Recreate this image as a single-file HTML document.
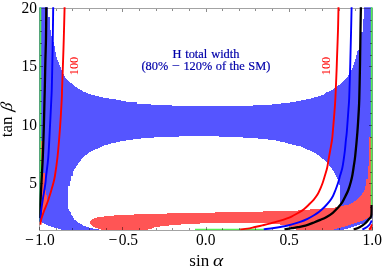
<!DOCTYPE html>
<html><head><meta charset="utf-8"><title>plot</title>
<style>
html,body{margin:0;padding:0;background:#fff;}
svg{display:block;font-family:"Liberation Serif",serif;will-change:transform;}
</style></head>
<body>
<svg width="382" height="270" viewBox="0 0 382 270">
<rect width="382" height="270" fill="#fff"/>
<defs><clipPath id="c"><rect x="39.3" y="7.2" width="333" height="222.8"/></clipPath><clipPath id="d"><rect x="39.2" y="7.2" width="333.5" height="223"/></clipPath></defs>
<g clip-path="url(#c)">
<g shape-rendering="crispEdges">
<polygon fill="#5555ff" points="39.0,7.0 47.6,7.0 47.6,16.6 49.6,16.6 49.6,30.4 50.8,30.4 51.5,36.0 53.9,42.6 54.9,48.9 56.1,55.2 57.5,60.0 60.1,66.3 62.6,72.6 64.5,76.4 67.6,80.2 72.0,83.9 77.1,87.7 83.4,91.5 89.0,93.8 95.6,95.8 105.0,98.0 115.7,99.5 125.0,101.4 131.0,102.3 137.0,102.3 137.0,103.5 150.9,103.5 150.9,104.7 172.3,104.7 172.3,105.8 253.0,105.8 253.0,104.8 272.0,104.8 272.0,104.0 286.0,103.2 298.0,101.2 311.0,98.5 323.8,94.7 326.0,92.6 331.2,90.5 336.5,87.0 341.7,82.9 345.9,79.1 348.5,75.4 350.6,71.3 352.9,67.0 354.1,63.5 355.4,59.0 356.7,54.0 358.0,49.7 361.3,49.7 361.3,32.3 363.0,32.3 363.0,19.1 364.2,19.1 364.2,7.0 373.0,7.0 373.0,231.0 61.4,231.0 61.4,229.6 56.0,228.0 54.0,227.4 50.9,226.5 47.7,225.5 44.6,223.7 41.4,222.1 39.0,221.5"/>
<polygon fill="#ffffff" points="67.9,205.0 67.9,186.3 69.5,186.3 69.5,180.5 70.8,180.5 70.8,175.6 72.9,175.6 72.9,172.2 75.1,168.3 78.9,162.7 83.9,156.4 90.2,152.0 97.8,148.4 100.0,147.6 105.0,145.2 112.6,143.2 118.9,141.8 125.2,140.6 132.7,139.6 142.8,138.3 153.7,138.0 153.7,137.1 178.9,137.1 178.9,135.8 219.0,135.8 219.0,137.1 243.1,137.1 243.1,138.2 258.2,138.2 258.2,139.1 268.3,139.1 268.3,140.2 276.0,140.2 277.0,141.0 283.6,142.2 292.4,144.7 301.2,146.6 307.5,149.7 313.8,152.2 319.2,155.7 323.4,159.4 327.6,163.0 331.3,168.0 334.9,173.2 337.0,178.5 339.1,182.7 339.6,185.8 339.6,231.0 99.7,231.0 99.7,229.7 98.1,229.3 93.9,228.6 89.7,227.9 86.6,226.8 83.4,225.5 80.3,223.7 77.1,221.8 74.0,219.2 72.7,216.8 71.2,214.1 70.1,211.5 68.6,209.4 67.9,208.4"/>
<polygon fill="#5555ff" points="339.6,185 373,185 373,215 339.6,215"/>
<polygon fill="#ffffff" points="339.6,205.8 342,205.9 346.2,205.2 350.4,204 354.6,201.4 357.7,198.8 360.8,195.6 363,192.5 364.5,190.4 373,190 373,231 339.6,231"/>
<polygon fill="#ff5555" points="89.9,222.3 90.8,220.8 92.8,219.2 96.0,217.8 100.2,216.8 105.4,216.4 114.0,216.0 114.0,215.3 133.9,215.3 133.9,214.3 167.1,214.3 167.1,213.2 214.9,213.2 214.9,211.9 263.3,211.9 263.3,211.0 298.1,211.0 298.1,209.9 306.0,209.9 314.0,209.1 322.0,208.6 330.0,208.0 339.6,207.0 339.6,205.8 342.0,205.9 346.2,205.2 350.4,204.0 354.6,201.4 357.7,198.8 360.8,195.6 363.0,192.5 364.5,190.4 364.5,185.7 366.1,185.7 366.3,179.0 368.0,179.0 368.0,166.0 369.4,166.0 369.4,136.8 373.0,136.8 373.0,214.6 370.5,216.6 369.1,218.0 365.3,220.1 362.0,221.3 355.5,223.4 349.2,225.5 342.9,227.6 335.6,229.3 333.0,231.0 296.5,231.0 295.0,228.5 292.0,227.2 285.0,225.5 276.0,223.8 262.0,222.9 240.0,222.6 200.3,222.6 200.3,223.5 181.2,223.5 181.2,224.6 168.7,224.6 168.7,225.5 160.3,225.5 160.3,226.5 154.0,226.5 154.0,227.9 151.7,227.9 151.7,228.9 147.5,228.9 147.5,231.0 102.3,231.0 102.3,229.7 99.1,229.1 96.0,227.9 92.8,226.2 90.8,224.4"/>
<polygon fill="#ff5555" points="40.0,141.3 42.6,141.3 42.6,173.3 44.5,173.3 44.5,189.6 45.5,189.6 45.5,195.0 47.1,195.0 47.1,204.0 44.0,210.5 41.0,218.8 40.0,222.0"/>
<polygon fill="#ff5555" points="369.1,230.0 372.0,224.3 372.0,230.0"/>
<polygon fill="#5555ff" points="373.0,214.1 370.5,216.1 369.1,217.5 365.3,219.6 362.0,220.8 355.5,222.9 349.2,225.0 342.9,227.1 335.6,228.8 332.0,231.0 341.0,231.0 343.0,229.7 349.2,228.3 355.5,226.0 362.0,223.9 365.3,222.2 370.1,218.8 373.0,217.5"/>
</g>
</g>
<g stroke="#000" stroke-opacity="0.45" stroke-width="1" fill="none" shape-rendering="crispEdges">
<rect x="39.5" y="8.5" width="333.00" height="222.00" stroke-opacity="0.36"/>
<g clip-path="url(#d)" stroke-opacity="1" shape-rendering="auto">
<line x1="40.3" y1="7" x2="40.3" y2="222" stroke="#55ee55" stroke-width="1.9"/>
<line x1="371.75" y1="7" x2="371.75" y2="205" stroke="#55ee55" stroke-width="1.9"/>
<line x1="195" y1="229.4" x2="264" y2="229.4" stroke="#55ee55" stroke-width="1.5"/>
</g>
<line x1="39.5" y1="230.0" x2="39.5" y2="226.70"/>
<line x1="56.5" y1="230.0" x2="56.5" y2="228.10"/>
<line x1="56.5" y1="9.0" x2="56.5" y2="10.90"/>
<line x1="72.5" y1="230.0" x2="72.5" y2="228.10"/>
<line x1="72.5" y1="9.0" x2="72.5" y2="10.90"/>
<line x1="89.5" y1="230.0" x2="89.5" y2="228.10"/>
<line x1="89.5" y1="9.0" x2="89.5" y2="10.90"/>
<line x1="106.5" y1="230.0" x2="106.5" y2="228.10"/>
<line x1="106.5" y1="9.0" x2="106.5" y2="10.90"/>
<line x1="122.5" y1="230.0" x2="122.5" y2="226.70"/>
<line x1="122.5" y1="9.0" x2="122.5" y2="12.30"/>
<line x1="139.5" y1="230.0" x2="139.5" y2="228.10"/>
<line x1="139.5" y1="9.0" x2="139.5" y2="10.90"/>
<line x1="156.5" y1="230.0" x2="156.5" y2="228.10"/>
<line x1="156.5" y1="9.0" x2="156.5" y2="10.90"/>
<line x1="172.5" y1="230.0" x2="172.5" y2="228.10"/>
<line x1="172.5" y1="9.0" x2="172.5" y2="10.90"/>
<line x1="189.5" y1="230.0" x2="189.5" y2="228.10"/>
<line x1="189.5" y1="9.0" x2="189.5" y2="10.90"/>
<line x1="206.5" y1="230.0" x2="206.5" y2="226.70"/>
<line x1="206.5" y1="9.0" x2="206.5" y2="12.30"/>
<line x1="222.5" y1="230.0" x2="222.5" y2="228.10"/>
<line x1="222.5" y1="9.0" x2="222.5" y2="10.90"/>
<line x1="239.5" y1="230.0" x2="239.5" y2="228.10"/>
<line x1="239.5" y1="9.0" x2="239.5" y2="10.90"/>
<line x1="255.5" y1="230.0" x2="255.5" y2="228.10"/>
<line x1="255.5" y1="9.0" x2="255.5" y2="10.90"/>
<line x1="272.5" y1="230.0" x2="272.5" y2="228.10"/>
<line x1="272.5" y1="9.0" x2="272.5" y2="10.90"/>
<line x1="289.5" y1="230.0" x2="289.5" y2="226.70"/>
<line x1="289.5" y1="9.0" x2="289.5" y2="12.30"/>
<line x1="305.5" y1="230.0" x2="305.5" y2="228.10"/>
<line x1="305.5" y1="9.0" x2="305.5" y2="10.90"/>
<line x1="322.5" y1="230.0" x2="322.5" y2="228.10"/>
<line x1="322.5" y1="9.0" x2="322.5" y2="10.90"/>
<line x1="339.5" y1="230.0" x2="339.5" y2="228.10"/>
<line x1="339.5" y1="9.0" x2="339.5" y2="10.90"/>
<line x1="355.5" y1="230.0" x2="355.5" y2="228.10"/>
<line x1="355.5" y1="9.0" x2="355.5" y2="10.90"/>
<line x1="372.5" y1="230.0" x2="372.5" y2="226.70"/>
<line x1="40.0" y1="218.5" x2="41.90" y2="218.5"/>
<line x1="372.0" y1="218.5" x2="370.10" y2="218.5"/>
<line x1="40.0" y1="207.5" x2="41.90" y2="207.5"/>
<line x1="372.0" y1="207.5" x2="370.10" y2="207.5"/>
<line x1="40.0" y1="195.5" x2="41.90" y2="195.5"/>
<line x1="372.0" y1="195.5" x2="370.10" y2="195.5"/>
<line x1="40.0" y1="183.5" x2="43.30" y2="183.5"/>
<line x1="372.0" y1="183.5" x2="368.70" y2="183.5"/>
<line x1="40.0" y1="172.5" x2="41.90" y2="172.5"/>
<line x1="372.0" y1="172.5" x2="370.10" y2="172.5"/>
<line x1="40.0" y1="160.5" x2="41.90" y2="160.5"/>
<line x1="372.0" y1="160.5" x2="370.10" y2="160.5"/>
<line x1="40.0" y1="148.5" x2="41.90" y2="148.5"/>
<line x1="372.0" y1="148.5" x2="370.10" y2="148.5"/>
<line x1="40.0" y1="137.5" x2="41.90" y2="137.5"/>
<line x1="372.0" y1="137.5" x2="370.10" y2="137.5"/>
<line x1="40.0" y1="125.5" x2="43.30" y2="125.5"/>
<line x1="372.0" y1="125.5" x2="368.70" y2="125.5"/>
<line x1="40.0" y1="113.5" x2="41.90" y2="113.5"/>
<line x1="372.0" y1="113.5" x2="370.10" y2="113.5"/>
<line x1="40.0" y1="101.5" x2="41.90" y2="101.5"/>
<line x1="372.0" y1="101.5" x2="370.10" y2="101.5"/>
<line x1="40.0" y1="90.5" x2="41.90" y2="90.5"/>
<line x1="372.0" y1="90.5" x2="370.10" y2="90.5"/>
<line x1="40.0" y1="78.5" x2="41.90" y2="78.5"/>
<line x1="372.0" y1="78.5" x2="370.10" y2="78.5"/>
<line x1="40.0" y1="66.5" x2="43.30" y2="66.5"/>
<line x1="372.0" y1="66.5" x2="368.70" y2="66.5"/>
<line x1="40.0" y1="55.5" x2="41.90" y2="55.5"/>
<line x1="372.0" y1="55.5" x2="370.10" y2="55.5"/>
<line x1="40.0" y1="43.5" x2="41.90" y2="43.5"/>
<line x1="372.0" y1="43.5" x2="370.10" y2="43.5"/>
<line x1="40.0" y1="31.5" x2="41.90" y2="31.5"/>
<line x1="372.0" y1="31.5" x2="370.10" y2="31.5"/>
<line x1="40.0" y1="20.5" x2="41.90" y2="20.5"/>
<line x1="372.0" y1="20.5" x2="370.10" y2="20.5"/>
</g>
<g clip-path="url(#d)">
<g fill="none" stroke-width="1.9" stroke-linecap="butt" stroke-linejoin="round">
<path d="M360.90,7.00 C360.83,10.83 360.63,21.50 360.50,30.00 C360.37,38.50 360.20,51.33 360.10,58.00 C360.00,64.67 360.03,63.33 359.90,70.00 C359.77,76.67 359.48,91.33 359.30,98.00 C359.12,104.67 359.12,104.33 358.80,110.00 C358.48,115.67 358.00,124.33 357.40,132.00 C356.80,139.67 355.80,150.33 355.20,156.00 C354.60,161.67 354.27,162.83 353.80,166.00 C353.33,169.17 352.90,172.33 352.40,175.00 C351.90,177.67 351.48,179.50 350.80,182.00 C350.12,184.50 349.18,187.67 348.30,190.00 C347.42,192.33 346.52,193.93 345.50,196.00 C344.48,198.07 343.43,200.48 342.20,202.40 C340.97,204.32 339.67,205.77 338.10,207.50 C336.53,209.23 334.72,211.23 332.80,212.80 C330.88,214.37 328.68,215.72 326.60,216.90 C324.52,218.08 322.40,218.97 320.30,219.90 C318.20,220.83 316.48,221.55 314.00,222.50 C311.52,223.45 308.05,224.83 305.40,225.60 C302.75,226.37 300.37,226.67 298.10,227.10 C295.83,227.53 294.07,227.80 291.80,228.20 C289.53,228.60 285.72,229.28 284.50,229.50" stroke="#000000" stroke-width="2.3"/>
<path d="M46.30,7.00 C46.25,12.17 46.15,29.17 46.00,38.00 C45.85,46.83 45.60,51.67 45.40,60.00 C45.20,68.33 44.95,81.33 44.80,88.00 C44.65,94.67 44.67,93.33 44.50,100.00 C44.33,106.67 44.08,118.50 43.80,128.00 C43.52,137.50 43.17,148.33 42.80,157.00 C42.43,165.67 41.93,173.67 41.60,180.00 C41.27,186.33 41.00,190.83 40.80,195.00 C40.60,199.17 40.50,201.17 40.40,205.00 C40.30,208.83 40.23,215.83 40.20,218.00" stroke="#000000" stroke-width="2.3"/>
<path d="M353.70,229.60 C354.75,229.17 358.12,228.02 360.00,227.00 C361.88,225.98 363.50,224.83 365.00,223.50 C366.50,222.17 367.95,220.32 369.00,219.00 C370.05,217.68 370.87,217.93 371.30,215.60 C371.73,213.27 371.55,206.77 371.60,205.00" stroke="#000000" stroke-width="2.3"/>
<path d="M351.60,7.00 C351.52,10.83 351.30,21.50 351.10,30.00 C350.90,38.50 350.57,51.33 350.40,58.00 C350.23,64.67 350.30,63.33 350.10,70.00 C349.90,76.67 349.48,91.33 349.20,98.00 C348.92,104.67 348.80,104.33 348.40,110.00 C348.00,115.67 347.22,127.00 346.80,132.00 C346.38,137.00 346.22,136.92 345.90,140.00 C345.58,143.08 345.25,147.37 344.90,150.50 C344.55,153.63 344.23,155.88 343.80,158.80 C343.37,161.72 342.90,165.25 342.30,168.00 C341.70,170.75 340.90,172.85 340.20,175.30 C339.50,177.75 338.88,180.25 338.10,182.70 C337.32,185.15 336.35,187.78 335.50,190.00 C334.65,192.22 333.97,194.13 333.00,196.00 C332.03,197.87 331.12,199.37 329.70,201.20 C328.28,203.03 326.25,205.25 324.50,207.00 C322.75,208.75 320.95,210.33 319.20,211.70 C317.45,213.07 315.95,214.02 314.00,215.20 C312.05,216.38 309.80,217.68 307.50,218.80 C305.20,219.92 302.65,221.00 300.20,221.90 C297.75,222.80 295.42,223.47 292.80,224.20 C290.18,224.93 287.63,225.67 284.50,226.30 C281.37,226.93 277.45,227.50 274.00,228.00 C270.55,228.50 265.50,229.08 263.80,229.30" stroke="#0000ff"/>
<path d="M53.20,7.00 C53.13,12.17 52.93,29.17 52.80,38.00 C52.67,46.83 52.57,51.67 52.40,60.00 C52.23,68.33 51.98,81.33 51.80,88.00 C51.62,94.67 51.62,93.33 51.30,100.00 C50.98,106.67 50.40,118.50 49.90,128.00 C49.40,137.50 48.93,149.00 48.30,157.00 C47.67,165.00 46.60,171.50 46.10,176.00 C45.60,180.50 45.92,179.67 45.30,184.00 C44.68,188.33 43.12,197.33 42.40,202.00 C41.68,206.67 41.33,208.75 41.00,212.00 C40.67,215.25 40.50,219.92 40.40,221.50" stroke="#0000ff"/>
<path d="M362.40,229.60 C363.17,229.17 365.73,227.93 367.00,227.00 C368.27,226.07 369.20,225.08 370.00,224.00 C370.80,222.92 371.50,221.08 371.80,220.50" stroke="#0000ff"/>
<path d="M338.50,7.00 C338.42,10.83 338.25,21.50 338.00,30.00 C337.75,38.50 337.23,51.33 337.00,58.00 C336.77,64.67 336.87,63.33 336.60,70.00 C336.33,76.67 335.73,91.33 335.40,98.00 C335.07,104.67 335.03,104.33 334.60,110.00 C334.17,115.67 333.23,127.00 332.80,132.00 C332.37,137.00 332.43,136.92 332.00,140.00 C331.57,143.08 330.75,147.37 330.20,150.50 C329.65,153.63 329.22,155.88 328.70,158.80 C328.18,161.72 327.72,165.25 327.10,168.00 C326.48,170.75 325.72,172.88 325.00,175.30 C324.28,177.72 323.55,180.33 322.80,182.50 C322.05,184.67 321.38,186.28 320.50,188.30 C319.62,190.32 318.65,192.68 317.50,194.60 C316.35,196.52 315.02,198.15 313.60,199.80 C312.18,201.45 310.62,202.93 309.00,204.50 C307.38,206.07 305.63,207.83 303.90,209.20 C302.17,210.57 300.93,211.33 298.60,212.70 C296.27,214.07 292.78,216.13 289.90,217.40 C287.02,218.67 283.95,219.48 281.30,220.30 C278.65,221.12 275.95,221.73 274.00,222.30 C272.05,222.87 271.55,223.18 269.60,223.70 C267.65,224.22 264.73,224.85 262.30,225.40 C259.87,225.95 257.45,226.47 255.00,227.00 C252.55,227.53 250.05,228.18 247.60,228.60 C245.15,229.02 241.52,229.35 240.30,229.50" stroke="#ff0000"/>
<path d="M64.60,7.00 C64.47,12.17 64.05,29.17 63.80,38.00 C63.55,46.83 63.38,51.67 63.10,60.00 C62.82,68.33 62.33,81.33 62.10,88.00 C61.87,94.67 62.05,93.33 61.70,100.00 C61.35,106.67 60.70,118.50 60.00,128.00 C59.30,137.50 58.35,149.00 57.50,157.00 C56.65,165.00 55.63,171.50 54.90,176.00 C54.17,180.50 54.20,180.00 53.10,184.00 C52.00,188.00 49.78,195.58 48.30,200.00 C46.82,204.42 45.35,207.37 44.20,210.50 C43.05,213.63 41.98,216.88 41.40,218.80 C40.82,220.72 40.85,221.00 40.70,222.00 C40.55,223.00 40.53,224.33 40.50,224.80" stroke="#ff0000"/>
<path d="M369.10,229.60 C369.42,229.17 370.52,227.88 371.00,227.00 C371.48,226.12 371.83,224.75 372.00,224.30" stroke="#ff0000"/>
</g>
</g>
<g fill="#000">
<text transform="translate(39.9,245.2) scale(1,1.09)" text-anchor="middle" font-size="15.5">−<tspan dx="1.5">1.0</tspan></text>
<text transform="translate(123.2,245.2) scale(1,1.09)" text-anchor="middle" font-size="15.5">−<tspan dx="1.5">0.5</tspan></text>
<text transform="translate(205.8,245.2) scale(1,1.09)" text-anchor="middle" font-size="15.5">0.0</text>
<text transform="translate(289.1,245.2) scale(1,1.09)" text-anchor="middle" font-size="15.5">0.5</text>
<text transform="translate(372.3,245.2) scale(1,1.09)" text-anchor="middle" font-size="15.5">1.0</text>
<text transform="translate(37.0,188.0) scale(1,1.09)" text-anchor="end" font-size="15.5">5</text>
<text transform="translate(37.0,129.5) scale(1,1.09)" text-anchor="end" font-size="15.5">10</text>
<text transform="translate(37.0,71.1) scale(1,1.09)" text-anchor="end" font-size="15.5">15</text>
<text transform="translate(37.0,12.7) scale(1,1.09)" text-anchor="end" font-size="15.5">20</text>
<text font-size="17" transform="translate(12.3,137.2) rotate(-90)">tan</text>
<text font-size="16.5" font-style="italic" transform="translate(12.3,111.6) rotate(-90) skewX(-10)">β</text>
<text font-size="17" x="189.3" y="265.8">sin</text>
<text font-size="17" font-style="italic" transform="translate(213,265.8) scale(1.15,1)">α</text>
</g>
<g fill="#0000aa" font-size="12.4" stroke="#0000aa" stroke-width="0.2">
<text x="172.6" y="57.8">H</text><text x="185.2" y="57.8">total</text><text x="211.2" y="57.8">width</text>
<text x="141.4" y="69.9">(80%</text><text x="171.8" y="69.9" textLength="7.8" lengthAdjust="spacingAndGlyphs">−</text><text x="183.4" y="69.9">120%</text><text x="215.8" y="69.9">of</text><text x="229.5" y="69.9">the</text><text x="248.3" y="69.9">SM)</text>
</g>
<g fill="#ff0000" font-size="12.4" text-anchor="middle">
<text transform="translate(77.6,66) rotate(-90)">100</text>
<text transform="translate(330.3,66) rotate(-90)">100</text>
</g>
</svg>
</body></html>
